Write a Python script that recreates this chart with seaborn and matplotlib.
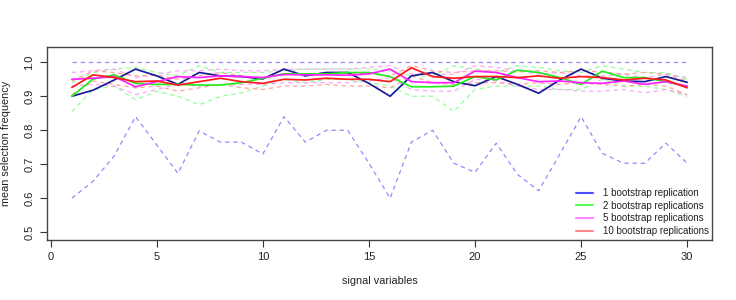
import matplotlib
matplotlib.use("Agg")
import matplotlib.pyplot as plt
from matplotlib.lines import Line2D
import seaborn as sns
import numpy as np

sns.set_style("white")
plt.rcParams['font.family'] = ['Liberation Sans', 'DejaVu Sans']

x = list(range(1, 31))

blue_mean = [0.90, 0.918, 0.948, 0.98, 0.96, 0.935, 0.97, 0.96, 0.958, 0.951,
             0.98, 0.96, 0.97, 0.97, 0.938, 0.90, 0.96, 0.97, 0.943, 0.931,
             0.958, 0.935, 0.909, 0.948, 0.98, 0.953, 0.945, 0.943, 0.958, 0.941]
blue_low = [0.60, 0.65, 0.725, 0.84, 0.757, 0.673, 0.798, 0.765, 0.765, 0.73,
            0.84, 0.765, 0.80, 0.80, 0.703, 0.60, 0.765, 0.80, 0.703, 0.676,
            0.762, 0.67, 0.622, 0.73, 0.84, 0.732, 0.703, 0.703, 0.762, 0.703]
blue_up = [1.0] * 30

green_mean = [0.90, 0.951, 0.963, 0.938, 0.935, 0.935, 0.933, 0.933, 0.94, 0.953,
              0.966, 0.966, 0.966, 0.97, 0.97, 0.958, 0.928, 0.928, 0.93, 0.958,
              0.948, 0.977, 0.97, 0.955, 0.935, 0.974, 0.955, 0.955, 0.943, 0.928]
green_low = [0.855, 0.92, 0.93, 0.89, 0.915, 0.90, 0.875, 0.90, 0.91, 0.93,
             0.95, 0.94, 0.95, 0.95, 0.94, 0.93, 0.90, 0.90, 0.855, 0.92,
             0.93, 0.93, 0.93, 0.92, 0.92, 0.95, 0.93, 0.93, 0.92, 0.90]
green_up = [0.94, 0.97, 0.98, 0.985, 0.97, 0.96, 0.99, 0.97, 0.97, 0.97,
            0.975, 0.98, 0.98, 0.98, 0.98, 0.975, 0.96, 0.96, 0.99, 0.98,
            0.97, 0.99, 0.985, 0.975, 0.97, 0.99, 0.98, 0.97, 0.97, 0.95]

magenta_mean = [0.95, 0.953, 0.958, 0.928, 0.943, 0.958, 0.955, 0.96, 0.958, 0.955,
                0.964, 0.963, 0.963, 0.962, 0.966, 0.98, 0.943, 0.94, 0.94, 0.974,
                0.97, 0.955, 0.943, 0.945, 0.94, 0.938, 0.945, 0.935, 0.943, 0.93]
magenta_low = [0.93, 0.935, 0.93, 0.905, 0.92, 0.935, 0.93, 0.935, 0.935, 0.935,
               0.94, 0.94, 0.94, 0.94, 0.945, 0.955, 0.92, 0.915, 0.915, 0.95,
               0.945, 0.93, 0.92, 0.92, 0.915, 0.915, 0.92, 0.91, 0.92, 0.905]
magenta_up = [0.97, 0.975, 0.98, 0.955, 0.965, 0.975, 0.975, 0.98, 0.975, 0.975,
              0.98, 0.98, 0.98, 0.98, 0.985, 0.99, 0.965, 0.965, 0.965, 0.99,
              0.985, 0.975, 0.965, 0.97, 0.96, 0.96, 0.965, 0.955, 0.965, 0.955]

red_mean = [0.926, 0.963, 0.955, 0.943, 0.945, 0.933, 0.943, 0.953, 0.943, 0.938,
            0.95, 0.948, 0.953, 0.95, 0.95, 0.943, 0.984, 0.958, 0.953, 0.958,
            0.958, 0.955, 0.96, 0.953, 0.958, 0.955, 0.948, 0.953, 0.948, 0.925]
red_low = [0.905, 0.945, 0.935, 0.925, 0.93, 0.915, 0.925, 0.935, 0.925, 0.92,
           0.93, 0.93, 0.935, 0.93, 0.93, 0.925, 0.96, 0.94, 0.935, 0.94,
           0.94, 0.935, 0.94, 0.935, 0.94, 0.935, 0.93, 0.935, 0.93, 0.905]
red_up = [0.945, 0.975, 0.97, 0.96, 0.962, 0.95, 0.96, 0.97, 0.96, 0.955,
          0.967, 0.965, 0.97, 0.967, 0.967, 0.96, 0.99, 0.975, 0.97, 0.975,
          0.975, 0.972, 0.975, 0.97, 0.975, 0.972, 0.965, 0.97, 0.965, 0.945]

labels = ["1 bootstrap replication", "2 bootstrap replications",
          "5 bootstrap replications", "10 bootstrap replications"]

series = [
    (blue_mean, blue_low, blue_up, "#1a1a99", "#8080ff", "#4d4dff"),
    (green_mean, green_low, green_up, "#22ee22", "#88ff88", "#55ff55"),
    (magenta_mean, magenta_low, magenta_up, "#ff22ff", "#ff99ff", "#ff88ff"),
    (red_mean, red_low, red_up, "#ff1a1a", "#ff9999", "#ff8888"),
]

fig = plt.figure(figsize=(7.36, 3.0), dpi=100)
ax = fig.add_axes([0.0639, 0.2, 0.9035, 0.6433])

# dashed bounds first
for mean, low, up, c_solid, c_dash, c_leg in series:
    sns.lineplot(x=x, y=low, ax=ax, color=c_dash, linewidth=0.9, linestyle=(0, (3.5, 3)), alpha=0.9)
    sns.lineplot(x=x, y=up, ax=ax, color=c_dash, linewidth=0.9, linestyle=(0, (3.5, 3)), alpha=0.9)
for mean, low, up, c_solid, c_dash, c_leg in series:
    sns.lineplot(x=x, y=mean, ax=ax, color=c_solid, linewidth=1.25)

ax.set_xlim(-0.17, 31.17)
ax.set_ylim(0.477, 1.045)
ax.set_xticks([0, 5, 10, 15, 20, 25, 30])
ax.set_yticks([0.5, 0.6, 0.7, 0.8, 0.9, 1.0])
ax.set_yticklabels(["0.5", "0.6", "0.7", "0.8", "0.9", "1.0"], rotation=90, va="center")
ax.tick_params(axis="both", direction="out", length=5, width=0.8, color="#333333",
               labelsize=8, labelcolor="#222222", bottom=True, left=True, pad=4)
for s in ax.spines.values():
    s.set_color("#444444")
    s.set_linewidth(1.0)
ax.set_xlabel("signal variables", fontsize=7.8, color="#222222", labelpad=10)
ax.set_ylabel("mean selection frequency", fontsize=7.8, color="#222222", labelpad=10)

handles = [Line2D([0], [0], color=s[5], linewidth=1.5) for s in series]
leg = ax.legend(handles, labels, loc="lower right", frameon=False, fontsize=7,
                handlelength=1.7, handletextpad=1.0, labelspacing=0.28,
                bbox_to_anchor=(1.008, -0.025))
for t in leg.get_texts():
    t.set_color("#222222")

fig.savefig("out.png", dpi=100, facecolor="white")
